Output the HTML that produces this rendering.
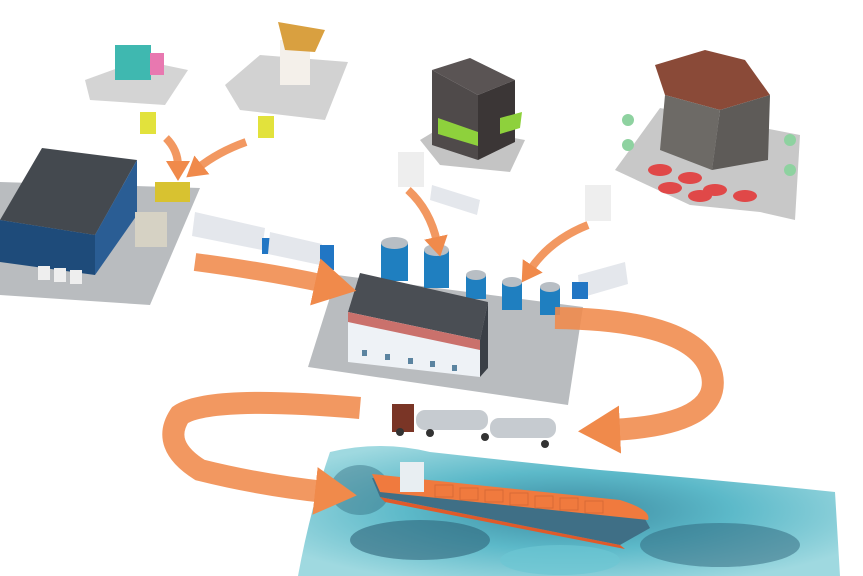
<!DOCTYPE html>
<html><head><meta charset="utf-8"><style>
html,body{margin:0;padding:0;background:#fff;width:863px;height:576px;overflow:hidden}
</style></head><body>
<svg width="863" height="576" viewBox="0 0 863 576" xmlns="http://www.w3.org/2000/svg">
<defs>
<radialGradient id="sea" cx="50%" cy="50%" r="60%">
<stop offset="0" stop-color="#3d8aa0"/><stop offset="0.5" stop-color="#5cb9c9"/><stop offset="1" stop-color="#9fd9e0"/>
</radialGradient>
<marker id="ah" markerUnits="userSpaceOnUse" markerWidth="42" markerHeight="48" refX="10" refY="24" orient="auto"><path d="M0,0 L42,24 L0,48 z" fill="#f08a4b"/></marker>
<marker id="ahs" markerUnits="userSpaceOnUse" markerWidth="20" markerHeight="24" refX="5" refY="12" orient="auto"><path d="M0,0 L20,12 L0,24 z" fill="#f08a4b"/></marker>
</defs>
<!-- ocean -->
<path d="M330,452 Q380,440 430,452 Q520,462 600,470 Q720,480 835,492 L840,576 L298,576 Q310,510 330,452Z" fill="url(#sea)"/>
<ellipse cx="420" cy="540" rx="70" ry="20" fill="#2e6479" opacity="0.6"/>
<ellipse cx="720" cy="545" rx="80" ry="22" fill="#2e6479" opacity="0.5"/>
<ellipse cx="560" cy="560" rx="60" ry="15" fill="#6cc6d3" opacity="0.7"/>
<ellipse cx="360" cy="490" rx="30" ry="25" fill="#2e6479" opacity="0.4"/>
<!-- ship -->
<path d="M372,478 L380,497 L620,545 L650,528 L640,510 Z" fill="#3f6f86"/>
<path d="M380,497 L620,545 L625,549 L385,502Z" fill="#e05a2a"/>
<path d="M372,474 L620,500 Q652,510 648,520 L380,492 Z" fill="#f07a3e"/>
<g stroke="#d86a35" fill="none" stroke-width="1">
<rect x="435" y="485" width="18" height="12"/><rect x="460" y="488" width="18" height="12"/><rect x="485" y="490" width="18" height="12"/><rect x="510" y="493" width="18" height="12"/><rect x="535" y="496" width="18" height="12"/><rect x="560" y="498" width="18" height="12"/><rect x="585" y="501" width="18" height="12"/>
</g>
<rect x="400" y="462" width="24" height="30" fill="#e8eef2"/>
<!-- factory platform -->
<polygon points="337,275 583,307 568,405 308,367" fill="#b9bcbf"/>
<!-- silos -->
<g>
<rect x="381" y="243" width="27" height="38" fill="#1f7fc0"/><ellipse cx="394.5" cy="243" rx="13.5" ry="6" fill="#b8bec4"/>
<rect x="424" y="250" width="25" height="38" fill="#1f7fc0"/><ellipse cx="436.5" cy="250" rx="12.5" ry="6" fill="#b8bec4"/>
<rect x="466" y="275" width="20" height="24" fill="#1f7fc0"/><ellipse cx="476" cy="275" rx="10" ry="5" fill="#b8bec4"/>
<rect x="502" y="282" width="20" height="28" fill="#1f7fc0"/><ellipse cx="512" cy="282" rx="10" ry="5" fill="#b8bec4"/>
<rect x="540" y="287" width="20" height="28" fill="#1f7fc0"/><ellipse cx="550" cy="287" rx="10" ry="5" fill="#b8bec4"/>
</g>
<!-- factory -->
<polygon points="360,273 488,302 480,340 348,312" fill="#4a4e54"/>
<polygon points="348,312 480,340 480,377 348,362" fill="#eef2f6"/>
<polygon points="348,312 480,340 480,350 348,322" fill="#c0504a" opacity="0.8"/>
<polygon points="480,340 488,302 488,368 480,377" fill="#3a3f46"/>
<g fill="#5b84a0"><rect x="362" y="350" width="5" height="6"/><rect x="385" y="354" width="5" height="6"/><rect x="408" y="358" width="5" height="6"/><rect x="430" y="361" width="5" height="6"/><rect x="452" y="365" width="5" height="6"/></g>
<!-- left warehouse -->
<polygon points="0,182 200,188 150,305 0,295" fill="#b9bcbf"/>
<polygon points="42,148 137,160 95,235 0,220" fill="#44494f"/>
<polygon points="0,220 95,235 95,275 0,262" fill="#1e4b7a"/>
<polygon points="95,235 137,160 137,215 95,275" fill="#2a5d94"/>
<rect x="135" y="212" width="32" height="35" fill="#d6d2c4"/>
<rect x="155" y="182" width="35" height="20" fill="#d8c230"/>
<g fill="#eee"><rect x="38" y="266" width="12" height="14"/><rect x="54" y="268" width="12" height="14"/><rect x="70" y="270" width="12" height="14"/></g>
<!-- trucks left -->
<polygon points="195,212 265,228 262,250 192,236" fill="#e4e7ec"/><rect x="262" y="238" width="10" height="16" fill="#2176c4"/>
<polygon points="270,232 322,244 320,265 268,254" fill="#e4e7ec"/><rect x="320" y="245" width="14" height="25" fill="#2176c4"/>
<!-- stores top left -->
<polygon points="85,80 140,60 188,70 165,105 90,100" fill="#d4d4d4"/>
<rect x="115" y="45" width="36" height="35" fill="#3fb8b0"/><rect x="150" y="53" width="14" height="22" fill="#e878b0"/>
<polygon points="225,85 260,55 348,62 325,120 240,110" fill="#d2d2d2"/>
<rect x="280" y="40" width="30" height="45" fill="#f4f0ea"/><polygon points="278,22 325,30 315,52 285,50" fill="#d9a040"/>
<rect x="140" y="112" width="16" height="22" fill="#e2e23c"/><rect x="258" y="116" width="16" height="22" fill="#e2e23c"/>
<!-- restaurant -->
<polygon points="420,140 445,125 525,140 510,172 440,165" fill="#c4c4c4"/>
<polygon points="432,70 470,58 515,80 478,95" fill="#5a5454"/>
<polygon points="432,70 478,95 478,160 432,145" fill="#4f4a4a"/>
<polygon points="478,95 515,80 515,142 478,160" fill="#3b3636"/>
<polygon points="438,118 478,132 478,146 438,134" fill="#8ed13c"/>
<polygon points="500,118 522,112 520,128 500,134" fill="#8ed13c"/>
<rect x="398" y="152" width="26" height="35" fill="#eee"/>
<polygon points="432,185 480,200 477,215 430,200" fill="#e4e7ec"/>
<!-- hotel -->
<polygon points="615,170 660,108 800,135 795,220 760,212 690,205" fill="#c8c8c8"/>
<polygon points="655,65 705,50 745,60 770,95 720,110 665,95" fill="#8a4a38"/>
<polygon points="665,95 720,110 712,170 660,150" fill="#6d6a66"/>
<polygon points="720,110 770,95 768,160 712,170" fill="#5e5b58"/>
<g fill="#e04848"><ellipse cx="660" cy="170" rx="12" ry="6"/><ellipse cx="690" cy="178" rx="12" ry="6"/><ellipse cx="715" cy="190" rx="12" ry="6"/><ellipse cx="745" cy="196" rx="12" ry="6"/><ellipse cx="670" cy="188" rx="12" ry="6"/><ellipse cx="700" cy="196" rx="12" ry="6"/></g>
<g fill="#8ed2a0"><circle cx="628" cy="120" r="6"/><circle cx="628" cy="145" r="6"/><circle cx="790" cy="140" r="6"/><circle cx="790" cy="170" r="6"/></g>
<rect x="585" y="185" width="26" height="36" fill="#eee"/>
<polygon points="578,275 625,262 628,284 580,298" fill="#e4e7ec"/><rect x="572" y="282" width="16" height="17" fill="#2176c4"/>
<!-- tanker truck -->
<rect x="392" y="404" width="22" height="28" fill="#7a3526"/>
<rect x="416" y="410" width="72" height="20" rx="9" fill="#c6cbd0"/>
<rect x="490" y="418" width="66" height="20" rx="9" fill="#c6cbd0"/>
<g fill="#333"><circle cx="430" cy="433" r="4"/><circle cx="485" cy="437" r="4"/><circle cx="545" cy="444" r="4"/><circle cx="400" cy="432" r="4"/></g>
<!-- arrows -->
<g fill="none" stroke="#f08a4b" stroke-opacity="0.88" stroke-width="22" marker-end="url(#ah)">
<path d="M555,318 Q700,320 712,375 Q722,425 610,430"/>
<path d="M360,408 Q210,395 180,415 Q160,445 200,470 Q260,485 325,492"/>
<path d="M195,262 Q270,272 325,284" stroke-width="18"/>
</g>
<g fill="none" stroke="#f08a4b" stroke-opacity="0.88" stroke-width="8" marker-end="url(#ahs)">
<path d="M166,138 Q178,150 178,166"/>
<path d="M246,142 Q218,152 198,168"/>
<path d="M408,190 Q430,210 437,242"/>
<path d="M588,225 Q550,240 530,270"/>
</g>
</svg>
</body></html>
